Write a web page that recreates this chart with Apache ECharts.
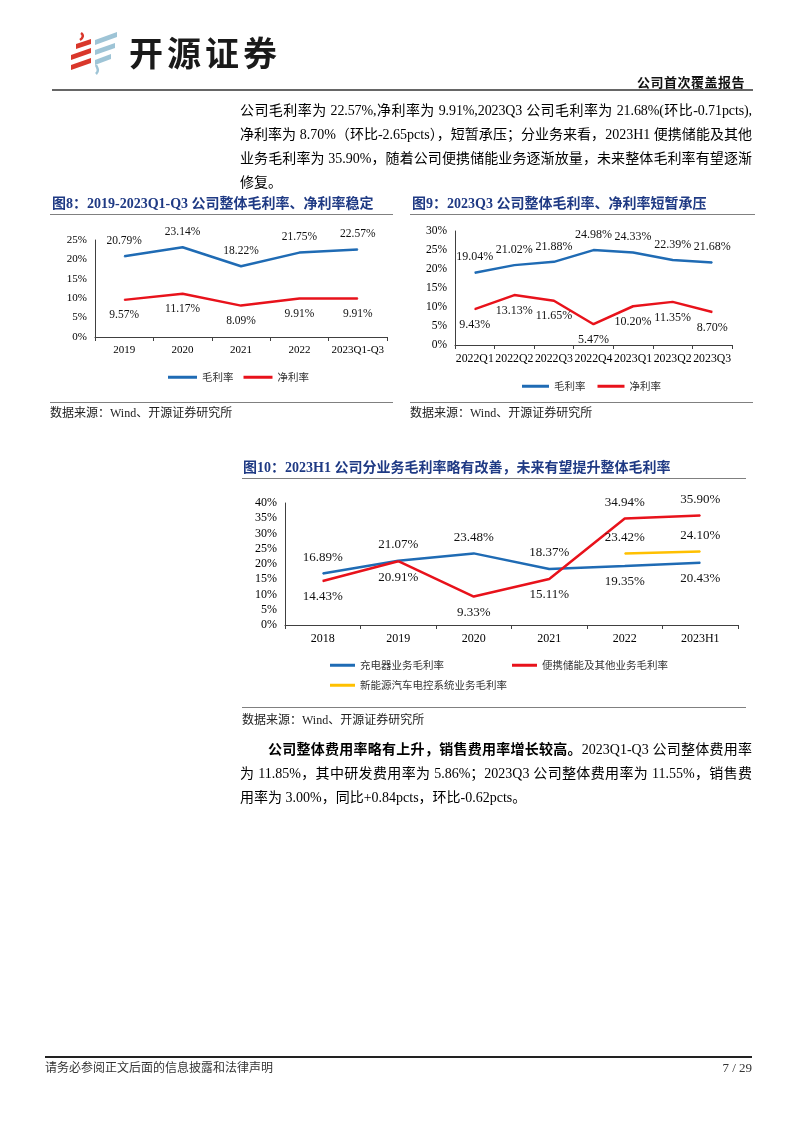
<!DOCTYPE html>
<html>
<head>
<meta charset="utf-8">
<script src="https://cdn.jsdelivr.net/npm/echarts@6/dist/echarts.min.js"></script>
<style>
  html, body { margin: 0; padding: 0; background: #fff; }
  #page { position: relative; width: 802px; height: 1133px; overflow: hidden; background: #fff;
          font-family: "Liberation Serif", "Noto Sans CJK SC", serif; color: #000; }
  #chart { position: absolute; left: 0; top: 0; width: 802px; height: 1133px; z-index: 1; }
  .abs { position: absolute; z-index: 2; white-space: nowrap; }
  .hline { position: absolute; z-index: 2; }
  .para { position: absolute; left: 240px; width: 512px; font-size: 14px; line-height: 24px; z-index: 2; }
  .para div { white-space: nowrap; text-align: justify; text-align-last: justify; }
  .para div.last { text-align-last: left; }
  .figtitle { font-size: 14px; font-weight: bold; color: #1F3A84; line-height: 18px; }
  .src { font-size: 12px; line-height: 16px; color: #222; }
</style>
</head>
<body>
<div id="page">
  <div id="chart"></div>

  <!-- header -->
  <svg class="abs" style="left:68px;top:30px" width="54" height="46" viewBox="0 0 54 46">
    <path d="M13 3 C16 5 15 8 12 10" stroke="#D9372B" stroke-width="2.5" fill="none"/>
    <path d="M8 14 L23 9 L23 14 L8 19 Z" fill="#D9372B"/>
    <path d="M3 25 L23 18 L23 23 L3 30 Z" fill="#D9372B"/>
    <path d="M3 35 L23 28 L23 33 L3 40 Z" fill="#D9372B"/>
    <path d="M27 10 L49 2 L49 7 L27 15 Z" fill="#9EC4D6"/>
    <path d="M27 20 L47 13 L47 18 L27 25 Z" fill="#9EC4D6"/>
    <path d="M27 30 L43 24 L43 29 L27 35 Z" fill="#9EC4D6"/>
    <path d="M28 35 C30 39 31 41 28 44" stroke="#9EC4D6" stroke-width="2.5" fill="none"/>
  </svg>
  <div class="abs" style="left:129px;top:31px;font-family:'Noto Sans CJK SC';font-weight:bold;font-size:34px;letter-spacing:4px;line-height:42px;color:#1a1a1a">开源证券</div>
  <div class="abs" style="right:57px;top:73px;font-family:'Noto Sans CJK SC';font-weight:bold;font-size:13px;letter-spacing:0.5px;line-height:18px;color:#111">公司首次覆盖报告</div>
  <div class="hline" style="left:52px;top:89px;width:701px;height:2px;background:#666"></div>

  <!-- paragraph 1 -->
  <div class="para" style="top:99px">
    <div style="letter-spacing:-0.1px">公司毛利率为 22.57%,净利率为 9.91%,2023Q3 公司毛利率为 21.68%(环比-0.71pcts),</div>
    <div>净利率为 8.70%（环比-2.65pcts），短暂承压；分业务来看，2023H1 便携储能及其他</div>
    <div>业务毛利率为 35.90%，随着公司便携储能业务逐渐放量，未来整体毛利率有望逐渐</div>
    <div class="last">修复。</div>
  </div>

  <!-- figure 8 / 9 titles -->
  <div class="abs figtitle" style="left:52px;top:195px">图8：2019-2023Q1-Q3 公司整体毛利率、净利率稳定</div>
  <div class="hline" style="left:50px;top:214px;width:343px;height:1px;background:#808080"></div>
  <div class="abs figtitle" style="left:412px;top:195px">图9：2023Q3 公司整体毛利率、净利率短暂承压</div>
  <div class="hline" style="left:410px;top:214px;width:345px;height:1px;background:#808080"></div>

  <div class="hline" style="left:50px;top:402px;width:343px;height:1px;background:#808080"></div>
  <div class="abs src" style="left:50px;top:405px">数据来源：Wind、开源证券研究所</div>
  <div class="hline" style="left:410px;top:402px;width:343px;height:1px;background:#808080"></div>
  <div class="abs src" style="left:410px;top:405px">数据来源：Wind、开源证券研究所</div>

  <!-- figure 10 -->
  <div class="abs figtitle" style="left:243px;top:459px">图10：2023H1 公司分业务毛利率略有改善，未来有望提升整体毛利率</div>
  <div class="hline" style="left:242px;top:478px;width:504px;height:1px;background:#808080"></div>
  <div class="hline" style="left:242px;top:707px;width:504px;height:1px;background:#808080"></div>
  <div class="abs src" style="left:242px;top:712px">数据来源：Wind、开源证券研究所</div>

  <!-- paragraph 2 -->
  <div class="para" style="top:738px">
    <div style="padding-left:28px"><b>公司整体费用率略有上升，销售费用率增长较高。</b>2023Q1-Q3 公司整体费用率</div>
    <div>为 11.85%，其中研发费用率为 5.86%；2023Q3 公司整体费用率为 11.55%，销售费</div>
    <div class="last">用率为 3.00%，同比+0.84pcts，环比-0.62pcts。</div>
  </div>

  <!-- footer -->
  <div class="hline" style="left:45px;top:1056px;width:707px;height:2px;background:#222"></div>
  <div class="abs" style="left:45px;top:1060px;font-size:12px;line-height:16px;color:#333">请务必参阅正文后面的信息披露和法律声明</div>
  <div class="abs" style="right:50px;top:1060px;font-size:13px;line-height:16px;color:#333">7 / 29</div>
</div>

<script>
// ---------- data ----------
const fig8Categories = ['2019', '2020', '2021', '2022', '2023Q1-Q3'];
const fig8Gross = [20.79, 23.14, 18.22, 21.75, 22.57];
const fig8Net = [9.57, 11.17, 8.09, 9.91, 9.91];

const fig9Categories = ['2022Q1', '2022Q2', '2022Q3', '2022Q4', '2023Q1', '2023Q2', '2023Q3'];
const fig9Gross = [19.04, 21.02, 21.88, 24.98, 24.33, 22.39, 21.68];
const fig9Net = [9.43, 13.13, 11.65, 5.47, 10.20, 11.35, 8.70];

const fig10Categories = ['2018', '2019', '2020', '2021', '2022', '2023H1'];
const fig10Charger = [16.89, 21.07, 23.48, 18.37, 19.35, 20.43];
const fig10Portable = [14.43, 20.91, 9.33, 15.11, 34.94, 35.90];
const fig10NEV = [null, null, null, null, 23.42, 24.10];

const seriesNames8 = ['毛利率', '净利率'];
const seriesNames10 = ['充电器业务毛利率', '便携储能及其他业务毛利率', '新能源汽车电控系统业务毛利率'];

// ---------- styles ----------
const BLUE = '#1F6BB4', RED = '#E8121B', YELLOW = '#FFC000';
const LATIN = '"Liberation Serif", "Noto Sans CJK SC", serif';
const CJK = '"Noto Sans CJK SC", sans-serif';
const AXIS_COLOR = '#404040';

function pct(p) { return p.value == null ? '' : Number(p.value).toFixed(2) + '%'; }

function xAxis(gridIndex, data, fs) {
  return {
    type: 'category', gridIndex, data, boundaryGap: true,
    axisLine: { show: true, lineStyle: { color: AXIS_COLOR, width: 1 } },
    axisTick: { show: true, alignWithLabel: false, interval: 0, length: 4, lineStyle: { color: AXIS_COLOR } },
    axisLabel: { color: '#000', fontFamily: LATIN, fontSize: fs, margin: 8, interval: 0 },
    splitLine: { show: false }
  };
}
function yAxis(gridIndex, max, fs) {
  return {
    type: 'value', gridIndex, min: 0, max, interval: 5,
    axisLine: { show: true, lineStyle: { color: AXIS_COLOR, width: 1 } },
    axisTick: { show: false },
    axisLabel: { color: '#000', fontFamily: LATIN, fontSize: fs, margin: 8, formatter: '{value}%' },
    splitLine: { show: false }
  };
}
function lineSeries(name, axisIdx, data, color, positions, fs) {
  return {
    type: 'line', name, xAxisIndex: axisIdx, yAxisIndex: axisIdx,
    data: data.map((v, i) => ({
      value: v,
      label: { position: positions[i] }
    })),
    symbol: 'circle', symbolSize: 1, showSymbol: true,
    connectNulls: false,
    lineStyle: { color, width: 2.5 },
    itemStyle: { color },
    label: { show: true, formatter: pct, color: '#111', fontFamily: LATIN, fontSize: fs, distance: 9 },
    labelLayout: { hideOverlap: false },
    emphasis: { disabled: true },
    animation: false
  };
}
const rep = (pos, n) => new Array(n).fill(pos);

const legendBase = {
  orient: 'horizontal', icon: 'rect', itemHeight: 3,
  textStyle: { fontFamily: CJK, fontSize: 10.5, color: '#333' },
  selectedMode: false
};

const option = {
  animation: false,
  grid: [
    { left: 95, top: 240, width: 292, height: 97 },
    { left: 455, top: 231, width: 277, height: 114 },
    { left: 285, top: 503, width: 453, height: 122 }
  ],
  xAxis: [xAxis(0, fig8Categories, 11), xAxis(1, fig9Categories, 11.8), xAxis(2, fig10Categories, 12)],
  yAxis: [yAxis(0, 25, 11), yAxis(1, 30, 11.5), yAxis(2, 40, 12)],
  legend: [
    Object.assign({}, legendBase, { left: 163, top: 367, itemWidth: 29, itemGap: 10, data: seriesNames8 }),
    Object.assign({}, legendBase, { left: 517, top: 376, itemWidth: 27, itemGap: 12, data: seriesNames8 }),
    Object.assign({}, legendBase, { left: 325, top: 655, itemWidth: 25, itemGap: 68, data: seriesNames10.slice(0, 2) }),
    Object.assign({}, legendBase, { left: 325, top: 675, itemWidth: 25, itemGap: 10, data: seriesNames10.slice(2) })
  ],
  series: [
    lineSeries(seriesNames8[0], 0, fig8Gross, BLUE, rep('top', 5), 11.5),
    lineSeries(seriesNames8[1], 0, fig8Net, RED, rep('bottom', 5), 11.5),
    lineSeries(seriesNames8[0], 1, fig9Gross, BLUE, rep('top', 7), 12),
    lineSeries(seriesNames8[1], 1, fig9Net, RED, rep('bottom', 7), 12),
    lineSeries(seriesNames10[0], 2, fig10Charger, BLUE, ['top', 'top', 'top', 'top', 'bottom', 'bottom'], 13),
    lineSeries(seriesNames10[1], 2, fig10Portable, RED, ['bottom', 'bottom', 'bottom', 'bottom', 'top', 'top'], 13),
    lineSeries(seriesNames10[2], 2, fig10NEV, YELLOW, rep('top', 6), 13)
  ]
};

const chart = echarts.init(document.getElementById('chart'), null, { renderer: 'canvas', width: 802, height: 1133 });
chart.setOption(option);
</script>
</body>
</html>
